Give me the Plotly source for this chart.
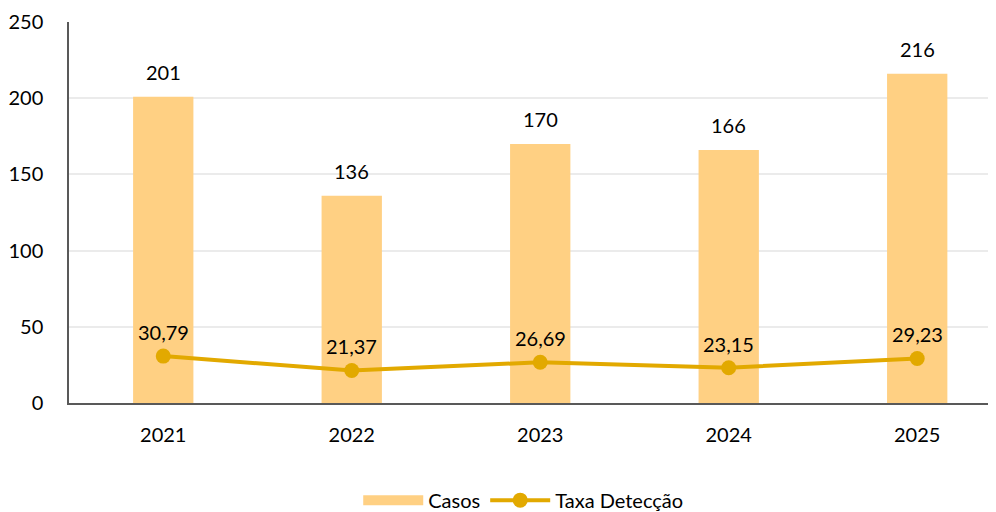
import plotly.graph_objects as go

years = ["2021", "2022", "2023", "2024", "2025"]
casos = [201, 136, 170, 166, 216]
taxa = [30.79, 21.37, 26.69, 23.15, 29.23]
taxa_labels = ["30,79", "21,37", "26,69", "23,15", "29,23"]

BAR = "#FFD083"
LINE = "#E2A900"
FONT = "Lato"

fig = go.Figure()
fig.add_trace(go.Bar(x=years, y=casos, name="Casos", marker=dict(color=BAR, line=dict(width=0)),
                     width=0.32, showlegend=False))
# legend-only entry giving a wide rectangle swatch for the bars
fig.add_trace(go.Scatter(x=[None], y=[None], name="Casos", mode="lines",
                         line=dict(color=BAR, width=15), hoverinfo="skip"))
fig.add_trace(go.Scatter(x=years, y=taxa, name="Taxa Detecção", mode="lines+markers",
                         line=dict(color=LINE, width=4), marker=dict(color=LINE, size=15)))

ann = []
for i, v in enumerate(casos):
    ann.append(dict(x=i, y=v, xref="x", yref="y", text=str(v), showarrow=False,
                    yanchor="bottom", yshift=11,
                    font=dict(family=FONT, size=20, color="#000")))
for i, (v, t) in enumerate(zip(taxa, taxa_labels)):
    ann.append(dict(x=i, y=v, xref="x", yref="y", text=t, showarrow=False,
                    yanchor="bottom", yshift=10,
                    font=dict(family=FONT, size=20, color="#000")))

fig.update_layout(
    width=996, height=512,
    margin=dict(l=61, r=8, t=14, b=117, autoexpand=False),
    plot_bgcolor="white", paper_bgcolor="white",
    font=dict(family=FONT, size=20, color="#000"),
    annotations=ann,
    showlegend=True,
    legend=dict(orientation="h", x=0.49, xanchor="center", y=-0.255, yanchor="middle",
                font=dict(family=FONT, size=20), itemwidth=60),
    xaxis=dict(type="category", range=[-0.5, 4.418], showline=True, linecolor="#595959",
               linewidth=1.5, ticks="", ticklabelstandoff=13, showgrid=False),
    yaxis=dict(range=[0, 250], dtick=50, showline=True, linecolor="#595959", linewidth=1.5,
               gridcolor="#EBEBEB", gridwidth=1.5, ticks="", ticklabelstandoff=20,
               zeroline=False),
)

fig.write_html("out.html")
